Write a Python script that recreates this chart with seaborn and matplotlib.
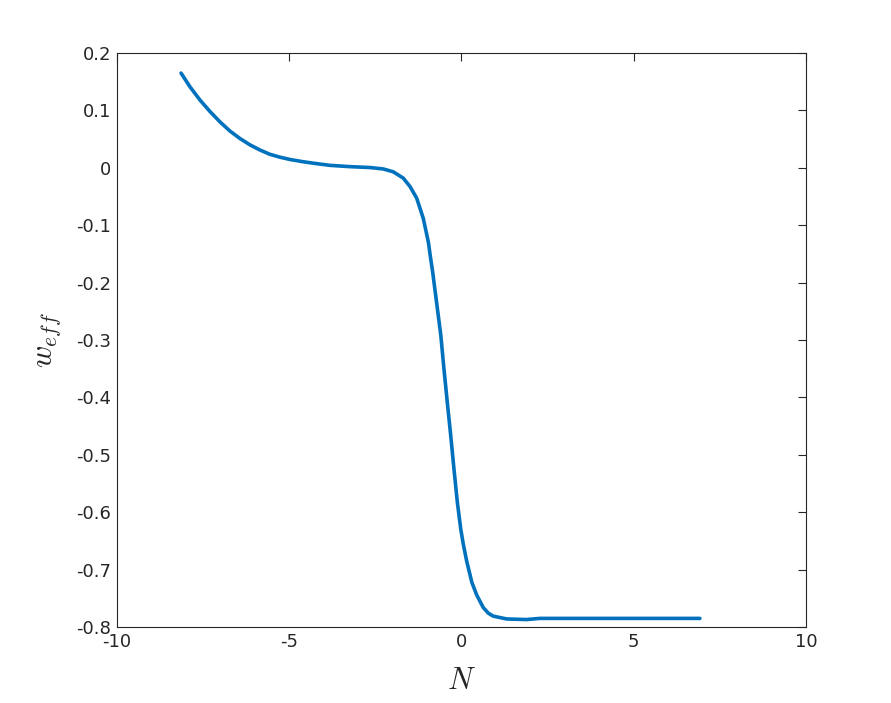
import matplotlib
matplotlib.use('Agg')
import matplotlib.pyplot as plt
import pandas as pd
import seaborn as sns

# curve values
n_vals = [-8.14, -7.88, -7.59, -7.30, -7.01, -6.72, -6.43, -6.14, -5.85, -5.56,
          -5.27, -4.98, -4.59, -4.20, -3.82, -3.24, -2.66, -2.27, -1.98, -1.69,
          -1.49, -1.30, -1.11, -0.96, -0.91, -0.84, -0.72, -0.60, -0.51, -0.41,
          -0.31, -0.22, -0.12, -0.02, 0.05, 0.15, 0.30, 0.44, 0.63, 0.78,
          0.92, 1.31, 1.89, 2.28, 2.86, 4.00, 5.50, 6.92]
w_vals = [0.165, 0.141, 0.118, 0.098, 0.080, 0.064, 0.051, 0.040, 0.031, 0.0235,
          0.0185, 0.0145, 0.0105, 0.0072, 0.0043, 0.0020, 0.0005, -0.002, -0.007, -0.018,
          -0.033, -0.053, -0.088, -0.130, -0.152, -0.180, -0.236, -0.292, -0.350, -0.410,
          -0.468, -0.524, -0.583, -0.630, -0.655, -0.685, -0.722, -0.744, -0.766, -0.776,
          -0.781, -0.786, -0.787, -0.785, -0.785, -0.785, -0.785, -0.785]
x_ticks = [-10, -5, 0, 5, 10]
y_ticks = [-0.8, -0.7, -0.6, -0.5, -0.4, -0.3, -0.2, -0.1, 0, 0.1, 0.2]

df = pd.DataFrame({'N': n_vals, 'w': w_vals})

sns.set_style('white')
plt.rcParams['font.family'] = ['DejaVu Sans']
plt.rcParams['mathtext.fontset'] = 'cm'
plt.rcParams['axes.unicode_minus'] = False

fig = plt.figure(figsize=(8.91, 7.03), dpi=100)
ax = fig.add_axes([0.1313, 0.1081, 0.7733, 0.8165])

sns.lineplot(data=df, x='N', y='w', ax=ax, color='#0072BD', linewidth=2.6, sort=False)

ax.set_xlim(-10, 10)
ax.set_ylim(-0.8, 0.2)
ax.set_xticks(x_ticks)
ax.set_yticks(y_ticks)
ax.set_xticklabels([str(t) for t in x_ticks])
ax.set_yticklabels(['%g' % t for t in y_ticks])
ax.tick_params(direction='in', length=6, width=0.8, colors='#262626', labelsize=13,
               top=True, right=True, pad=4)
for s in ax.spines.values():
    s.set_color('#262626')
    s.set_linewidth(0.8)

ax.set_xlabel(r'$N$', fontsize=22, color='#262626', labelpad=11)
ax.set_ylabel(r'$w_{eff}$', fontsize=22, color='#262626', labelpad=10)

fig.savefig('out.png', dpi=100)
